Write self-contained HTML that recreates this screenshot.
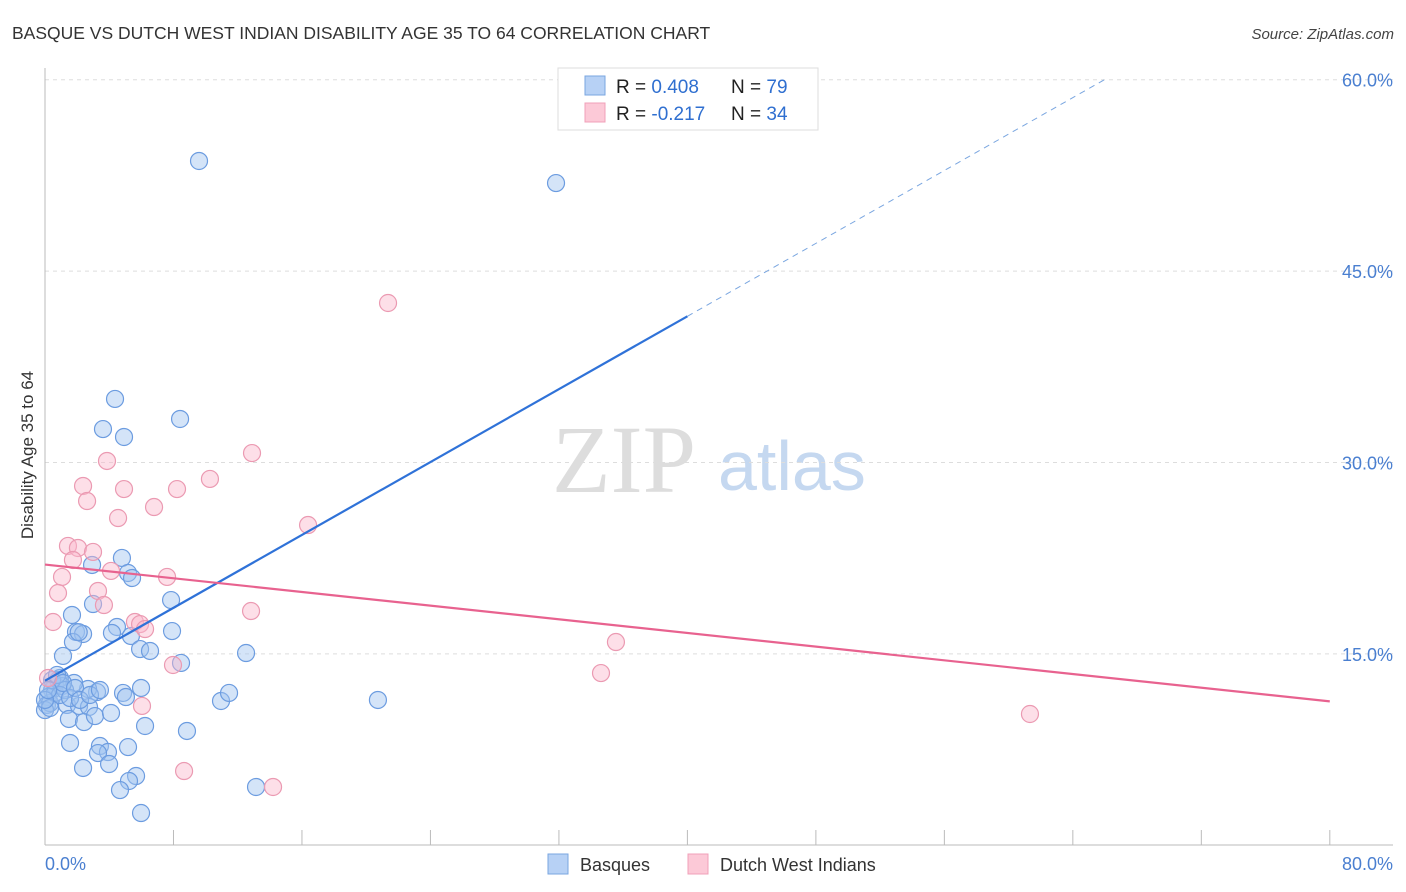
<!DOCTYPE html>
<html><head><meta charset="utf-8"><style>
body{margin:0;background:#fff;font-family:"Liberation Sans",sans-serif;}
svg{display:block}
</style></head><body>
<svg id="chart" width="1406" height="892" xmlns="http://www.w3.org/2000/svg">
<text x="12" y="39" font-size="17.5" fill="#333">BASQUE VS DUTCH WEST INDIAN DISABILITY AGE 35 TO 64 CORRELATION CHART</text>
<text x="1394" y="39" font-size="15" fill="#444" font-style="italic" text-anchor="end">Source: ZipAtlas.com</text>
<g>
<text x="552" y="492" font-family="Liberation Serif,serif" font-size="96" fill="#ddd">ZIP</text>
<text x="718" y="490" font-size="70" fill="#c5d8f0">atlas</text>
</g>
<g id="grid"></g>
<g id="axes"></g>
<g id="marks"></g>
<g id="lines"></g>
<text transform="translate(33,455) rotate(-90)" font-size="17" fill="#333" text-anchor="middle">Disability Age 35 to 64</text>
<g>
<rect x="558" y="68" width="260" height="62" fill="#fff" stroke="#ddd"/>
<rect x="585" y="76" width="20" height="19" fill="#b7d1f5" stroke="#7aa6e0"/>
<rect x="585" y="103" width="20" height="19" fill="#fcc9d7" stroke="#f0a0b8"/>
<text x="616" y="93" font-size="19" fill="#222">R = <tspan fill="#2f6fd0">0.408</tspan></text>
<text x="731" y="93" font-size="19" fill="#222">N = <tspan fill="#2f6fd0">79</tspan></text>
<text x="616" y="120" font-size="19" fill="#222">R = <tspan fill="#2f6fd0">-0.217</tspan></text>
<text x="731" y="120" font-size="19" fill="#222">N = <tspan fill="#2f6fd0">34</tspan></text>
</g>
<g>
<rect x="548" y="854" width="20" height="20" fill="#b7d1f5" stroke="#7aa6e0"/>
<text x="580" y="871" font-size="18" fill="#333">Basques</text>
<rect x="688" y="854" width="20" height="20" fill="#fcc9d7" stroke="#f0a0b8"/>
<text x="720" y="871" font-size="18" fill="#333">Dutch West Indians</text>
</g>
</svg>
<script>
const blueX=[9.59,31.82,4.36,8.41,3.61,4.92,4.79,2.93,5.17,5.42,2.99,1.68,7.85,4.48,4.17,1.93,2.37,7.91,5.35,5.92,6.54,1.74,1.12,8.47,12.52,20.73,10.96,11.46,4.86,5.04,5.98,3.24,2.68,1.81,0.93,0.62,0.44,0.19,0.12,0.31,1.37,2.12,2.74,1.49,2.43,3.11,4.11,6.23,8.84,1.56,3.42,3.92,5.17,3.30,2.37,3.99,5.67,5.23,4.67,13.14,5.98,0.62,0.81,1.06,1.25,0,0.31,0.93,1.56,0.44,0.75,1.12,1.87,2.18,2.80,3.42,0,0.19,2.1];
const blueY=[53.63,51.9,34.98,33.41,32.62,32.0,22.52,21.97,21.34,20.95,18.91,18.05,19.22,17.11,16.64,16.72,16.56,16.79,16.40,15.38,15.23,15.93,14.84,14.29,15.07,11.39,11.31,11.94,11.94,11.62,12.33,12.01,12.25,12.72,13.11,12.56,12.17,11.62,11.0,11.15,11.0,10.92,10.84,9.90,9.66,10.13,10.37,9.35,8.96,8.02,7.78,7.31,7.70,7.23,6.06,6.37,5.43,5.04,4.33,4.57,2.53,11.94,12.95,12.48,12.17,10.6,10.76,11.78,11.54,12.95,13.35,12.72,12.33,11.39,11.78,12.17,11.39,12.17,16.7];
const pinkX=[21.36,12.89,3.86,2.37,4.92,8.22,10.27,2.62,6.79,4.55,16.38,1.43,2.05,2.99,1.74,4.11,7.6,1.06,3.3,0.81,3.67,12.83,0.5,5.6,5.92,6.23,35.55,7.97,34.62,6.04,61.33,8.66,14.2,0.19];
const pinkY=[42.5,30.74,30.12,28.16,27.92,27.92,28.71,26.98,26.51,25.65,25.1,23.46,23.3,22.99,22.36,21.5,21.03,21.03,19.93,19.77,18.83,18.36,17.5,17.5,17.34,16.95,15.93,14.13,13.5,10.92,10.29,5.82,4.57,13.11];
const blueFit=[12.9,0.714];   // intercept, slope
const pinkFit=[22.0,-0.134];
const yTicks=[15,30,45,60];
const xTickLabels=["0.0%","80.0%"];
const NS="http://www.w3.org/2000/svg";
const sx=v=>45+v*16.06, sy=v=>845.3-v*12.76;
function mk(parent,tag,attrs){const e=document.createElementNS(NS,tag);for(const k in attrs)e.setAttribute(k,attrs[k]);document.getElementById(parent).appendChild(e);return e;}
yTicks.forEach(t=>{
  const g=mk('grid','line',{x1:45,x2:1393,y1:sy(t),y2:sy(t),stroke:'#ddd','stroke-dasharray':'4,4'});
  
  
  const l=mk('axes','text',{x:1393,y:sy(t)+7,'font-size':18,fill:'#4a7fd0','text-anchor':'end'});
  l.textContent=t.toFixed(1)+'%';
  
  
});
const ya=mk('axes','line',{x1:45,x2:45,y1:68,y2:845,stroke:'#bbb'});


const xa=mk('axes','line',{x1:45,x2:1393,y1:845,y2:845,stroke:'#bbb'});


for(let i=0;i<=10;i++){
  const t=mk('axes','line',{x1:sx(i*8),x2:sx(i*8),y1:830,y2:845,stroke:'#bbb'});
  
  
}
[[0,'start',45],[80,'end',1393]].forEach((d,i)=>{
  const l=mk('axes','text',{x:d[2],y:870,'font-size':18,fill:'#4a7fd0','text-anchor':d[1]});
  l.textContent=xTickLabels[i];
  
  
});
blueX.forEach((x,i)=>{
  const c=mk('marks','circle',{cx:sx(x),cy:sy(blueY[i]),r:8.5,fill:'rgba(160,196,240,0.45)',stroke:'#6c9ce0','stroke-width':1.2});
  
  
});
pinkX.forEach((x,i)=>{
  const c=mk('marks','circle',{cx:sx(x),cy:sy(pinkY[i]),r:8.5,fill:'rgba(250,185,205,0.45)',stroke:'#eb9ab2','stroke-width':1.2});
  
  
});
const bEnd=(60-blueFit[0])/blueFit[1];
const bl=mk('lines','line',{x1:sx(0),y1:sy(blueFit[0]),x2:sx(40),y2:sy(blueFit[0]+blueFit[1]*40),stroke:'#2f72d8','stroke-width':2.2});


const bd=mk('lines','line',{x1:sx(40),y1:sy(blueFit[0]+blueFit[1]*40),x2:sx(bEnd),y2:sy(60),stroke:'#7aa6e0','stroke-width':1,'stroke-dasharray':'6,5'});


const pl=mk('lines','line',{x1:sx(0),y1:sy(pinkFit[0]),x2:sx(80),y2:sy(pinkFit[0]+pinkFit[1]*80),stroke:'#e8628f','stroke-width':2.2});


</script>
</body></html>
